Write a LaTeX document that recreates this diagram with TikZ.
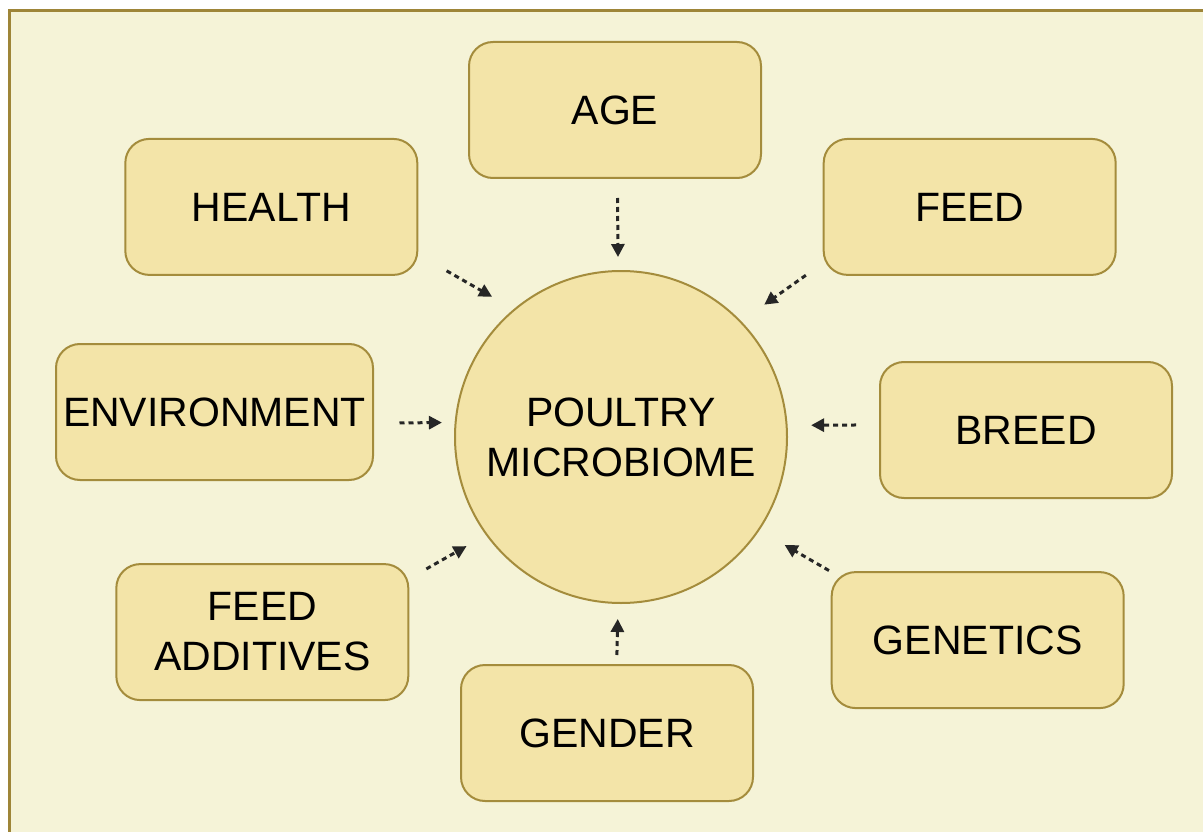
\documentclass[tikz,border=0pt]{standalone}
\usepackage{fontspec}
\setmainfont{Liberation Sans}
\usetikzlibrary{arrows.meta, positioning}

\definecolor{bgcream}{HTML}{F5F3D7}
\definecolor{rimbrown}{HTML}{9E8538}
\definecolor{cellfill}{HTML}{F3E4A8}
\definecolor{cellline}{HTML}{A48C3C}

\begin{document}
\begin{tikzpicture}[
        x=1pt, y=-1pt,
        factor/.style={rectangle, draw=cellline, fill=cellfill, line width=2pt,
                       rounded corners=24pt, minimum width=292pt, minimum height=136pt,
                       inner sep=2pt, align=center, font=\fontsize{41}{50}\selectfont},
        hub/.style={factor, circle, minimum size=332pt, inner sep=0pt},
        arrow/.style={-{Triangle[length=13pt, width=13pt]}, line width=3pt,
                      dash pattern=on 5pt off 4pt, black!85},
    ]
    % cream sheet with brown rim on top and left
    \clip (0,0) rectangle (1203,832);
    \draw[rimbrown, line width=3pt, fill=bgcream] (9,11) rectangle (1240,870);

    % centre: the microbiome
    \node[hub] (hub) at (621,437) {POULTRY\\MICROBIOME};

    % top and bottom
    \node[factor, above=91pt of hub, xshift=-6pt] (age) {AGE};
    \node[factor, below=60pt of hub, xshift=-14pt] (gender) {GENDER};
    % upper corners
    \node[factor, above left=43pt and 84.6pt of hub] (health) {HEALTH};
    \node[factor, above right=43pt and 83.6pt of hub] (feed) {FEED};
    % sides
    \node[factor, left=80pt of hub, yshift=25pt, minimum width=317pt] (env) {ENVIRONMENT};
    \node[factor, right=91pt of hub, yshift=7pt] (breed) {BREED};
    % lower corners
    \node[factor, below left=8pt and 93.6pt of hub] (additives) {FEED\\ADDITIVES};
    \node[factor, below right=16pt and 91.6pt of hub] (genetics) {GENETICS};

    % dashed influence arrows
    \draw[arrow, shorten <=19pt, shorten >=13pt] (age.-88) -- (hub.91);
    \draw[arrow, shorten <=32.6pt, shorten >=24.8pt] (health.-18) -- (hub.130);
    \draw[arrow, shorten <=20.6pt, shorten >=28.3pt] (feed.201) -- (hub.44);
    \draw[arrow, shorten <=25.5pt, shorten >=12.7pt] (env.-4) -- (hub.175);
    \draw[arrow, shorten <=23pt, shorten >=23.5pt] (breed.178) -- (hub.4);
    \draw[arrow, shorten <=19.6pt, shorten >=22.2pt] (additives.20) -- (hub.216);
    \draw[arrow, shorten <=2pt, shorten >=29pt] (genetics.155) -- (hub.-34);
    \draw[arrow, shorten <=9pt, shorten >=15pt] (gender.82) -- (hub.-91);

\end{tikzpicture}
\end{document}
